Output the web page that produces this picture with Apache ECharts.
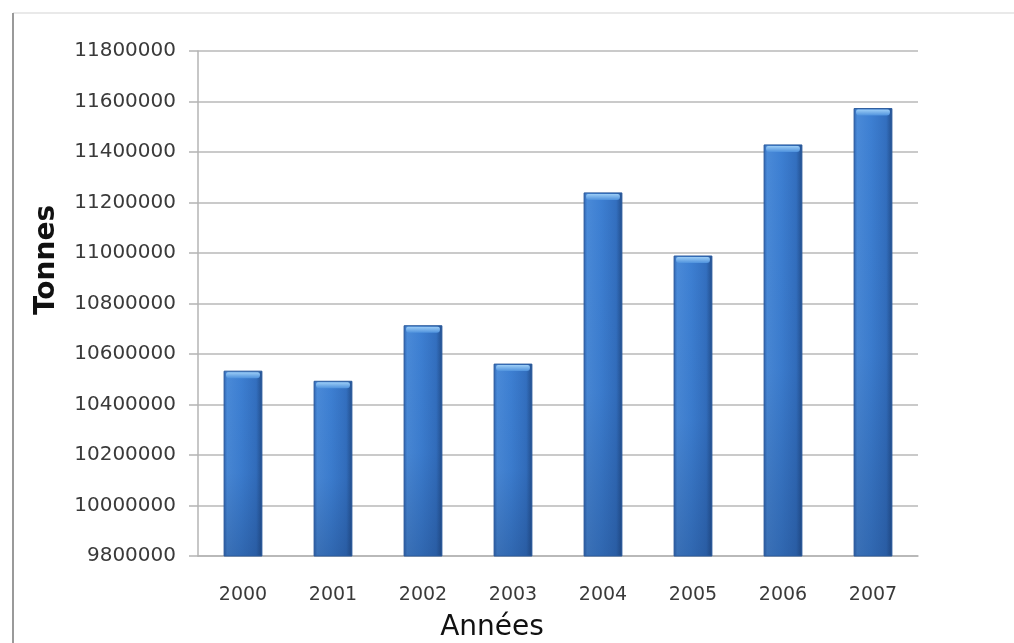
<!DOCTYPE html>
<html>
<head>
<meta charset="utf-8">
<script src="https://cdn.jsdelivr.net/npm/echarts@6/dist/echarts.min.js"></script>
<style>
  html, body { margin: 0; padding: 0; background: #ffffff; }
  #chart { width: 1014px; height: 643px; }
</style>
</head>
<body>
<div id="chart"></div>
<script>
// Annual tonnage, 2000–2007
const years = ['2000', '2001', '2002', '2003', '2004', '2005', '2006', '2007'];
const tonnes = [10532000, 10492000, 10712000, 10560000, 11238000, 10988000, 11428000, 11572000];

// Value axis range
const yMin = 9800000;
const yMax = 11800000;
const yStep = 200000;

const chart = echarts.init(document.getElementById('chart'), null, { renderer: 'canvas' });

const labelFont = 'DejaVu Sans';

// Bevelled column: side shading, darker foot, light top cap
function renderColumn(params, api) {
  const idx = api.value(0);
  const val = api.value(1);
  const top = api.coord([idx, val]);
  const foot = api.coord([idx, yMin]);
  const w = api.size([1, 0])[0] * 0.42;
  const x0 = top[0] - w / 2;
  const y0 = top[1];
  const h = foot[1] - top[1];
  const G = echarts.graphic.LinearGradient;
  return {
    type: 'group',
    children: [
      {
        type: 'rect',
        shape: { x: x0, y: y0, width: w, height: h },
        style: {
          fill: new G(0, 0, 1, 0, [
            { offset: 0, color: '#2f66b3' },
            { offset: 0.08, color: '#4a8ad8' },
            { offset: 0.45, color: '#3d7fd2' },
            { offset: 0.85, color: '#336fbf' },
            { offset: 1, color: '#23508f' }
          ])
        }
      },
      {
        type: 'rect',
        shape: { x: x0, y: y0, width: w, height: h },
        style: {
          fill: new G(0, 0, 0, 1, [
            { offset: 0, color: 'rgba(20,50,100,0)' },
            { offset: 0.55, color: 'rgba(20,50,100,0.05)' },
            { offset: 1, color: 'rgba(20,50,100,0.30)' }
          ])
        }
      },
      {
        type: 'rect',
        shape: { x: x0 + 2, y: y0 + 1, width: w - 4, height: 6, r: [2, 2, 3, 3] },
        style: {
          fill: new G(0, 0, 0, 1, [
            { offset: 0, color: '#9ccdf6' },
            { offset: 1, color: '#4f92dd' }
          ])
        }
      },
      {
        type: 'rect',
        shape: { x: x0, y: y0, width: w, height: h },
        style: { fill: 'none', stroke: '#2a5a9c', lineWidth: 1 }
      }
    ]
  };
}

const option = {
  backgroundColor: '#ffffff',
  animation: false,
  grid: { left: 198, right: 96, top: 51, bottom: 87, containLabel: false },
  xAxis: {
    type: 'category',
    data: years,
    axisLine: { show: true, lineStyle: { color: '#b4b4b4', width: 1.5 } },
    axisTick: { show: false },
    axisLabel: { color: '#3a3a3a', fontFamily: labelFont, fontSize: 19, margin: 30 },
    splitLine: { show: false }
  },
  yAxis: {
    type: 'value',
    min: yMin,
    max: yMax,
    interval: yStep,
    axisLine: { show: true, lineStyle: { color: '#b4b4b4', width: 1.5 } },
    axisTick: { show: true, length: 9, lineStyle: { color: '#b4b4b4', width: 1.5 } },
    axisLabel: {
      color: '#3a3a3a',
      fontFamily: labelFont,
      fontSize: 20,
      margin: 22,
      formatter: v => String(v)
    },
    splitLine: { show: true, lineStyle: { color: '#b8b8b8', width: 1.5 } }
  },
  series: [
    {
      type: 'custom',
      renderItem: renderColumn,
      encode: { x: 0, y: 1 },
      data: tonnes.map((v, i) => [i, v])
    }
  ],
  graphic: [
    // chart frame edges
    { type: 'line', shape: { x1: 13, y1: 13, x2: 1014, y2: 13 }, style: { stroke: '#e2e2e2', lineWidth: 1.5 } },
    { type: 'line', shape: { x1: 13, y1: 13, x2: 13, y2: 643 }, style: { stroke: '#9a9a9a', lineWidth: 2 } },
    // axis titles
    {
      type: 'text',
      x: 47, y: 260,
      rotation: Math.PI / 2,
      style: {
        text: 'Tonnes',
        font: 'bold 28px "DejaVu Sans"',
        fill: '#111111',
        align: 'center',
        verticalAlign: 'middle'
      }
    },
    {
      type: 'text',
      x: 492, y: 628,
      style: {
        text: 'Années',
        font: '28px "DejaVu Sans"',
        fill: '#111111',
        align: 'center',
        verticalAlign: 'middle'
      }
    }
  ]
};

chart.setOption(option);
</script>
</body>
</html>
